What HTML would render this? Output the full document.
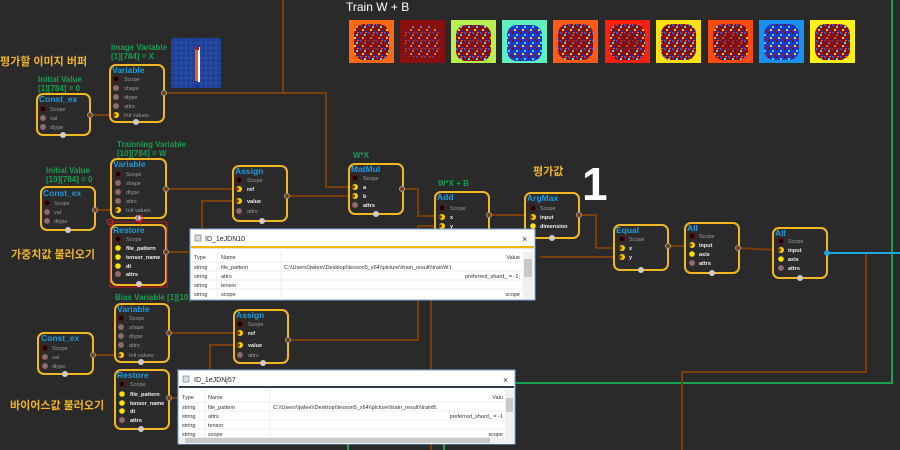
<!DOCTYPE html>
<html><head><meta charset="utf-8"><style>
html,body{margin:0;padding:0;background:#2a2a2a;}
svg{display:block;}
.t{font-family:"Liberation Sans",sans-serif;font-weight:bold;font-size:8.5px;fill:#1e9ce0;}
.r{font-family:"Liberation Sans",sans-serif;font-size:5.5px;fill:#9a9a9a;}
.rw{font-family:"Liberation Sans",sans-serif;font-size:5.5px;fill:#f0f0f0;font-weight:bold;}
.gl{font-family:"Liberation Sans",sans-serif;font-weight:bold;font-size:8px;fill:#14a050;}
.ko{font-family:"Liberation Sans","Noto Sans CJK KR",sans-serif;font-size:11px;fill:#f0b428;font-weight:bold;}
.d{font-family:"Liberation Sans",sans-serif;font-size:5.5px;fill:#333;}
.nb{fill:#2b2b2b;stroke:#f2b822;stroke-width:2;}
.w{fill:none;stroke:#7a3e08;stroke-width:2;}
</style></head><body>
<svg width="900" height="450" viewBox="0 0 900 450" xmlns="http://www.w3.org/2000/svg">
<defs>
<pattern id="nz" width="8" height="8" patternUnits="userSpaceOnUse">
<rect width="8" height="8" fill="#8b0a0a"/>
<rect x="0" y="0" width="2" height="2" fill="#1a5cff"/>
<rect x="4" y="2" width="2" height="2" fill="#40e0ff"/>
<rect x="2" y="5" width="2" height="2" fill="#ffd020"/>
<rect x="6" y="6" width="2" height="2" fill="#1030c0"/>
<rect x="5" y="0" width="2" height="1" fill="#ff6020"/>
</pattern>
<pattern id="nz2" width="8" height="8" patternUnits="userSpaceOnUse">
<rect width="8" height="8" fill="#1838d0"/>
<rect x="0" y="0" width="2" height="2" fill="#8b0a0a"/>
<rect x="4" y="2" width="2" height="2" fill="#40e0ff"/>
<rect x="2" y="5" width="2" height="2" fill="#ffd020"/>
<rect x="6" y="6" width="2" height="2" fill="#a01010"/>
</pattern>
</defs>

<!-- green lines -->
<line x1="892" y1="0" x2="892" y2="384" stroke="#16a24e" stroke-width="2"/>
<line x1="515" y1="383" x2="892" y2="383" stroke="#16a24e" stroke-width="2"/>
<line x1="348" y1="443" x2="348" y2="450" stroke="#16a24e" stroke-width="2"/>
<line x1="444" y1="443" x2="444" y2="450" stroke="#16a24e" stroke-width="2"/>

<!-- wires -->
<polyline class="w" points="283,0 283,93"/>
<polyline class="w" points="164,93 326,93 326,187 349,187"/>
<polyline class="w" points="90,115 114,115"/>
<polyline class="w" points="95,210 115,210"/>
<polyline class="w" points="166,189 237,189"/>
<polyline class="w" points="287,196 349,196"/>
<polyline class="w" points="202,240 202,201 237,201"/>
<polyline class="w" points="402,189 418,189 418,216 438,216"/>
<polyline class="w" points="418,240 418,226 438,226"/>
<polyline class="w" points="489,215 529,215"/>
<polyline class="w" points="579,215 596,215 596,248 618,248"/>
<polyline class="w" points="540,257 618,257"/>
<polyline class="w" points="668,246 688,246"/>
<polyline class="w" points="738,248 776,250"/>
<polyline class="w" points="866,253 866,372 682,372 682,450"/>
<polyline class="w" points="93,355 119,355"/>
<polyline class="w" points="169,333 237,333"/>
<polyline class="w" points="210,375 210,345 237,345"/>
<polyline class="w" points="288,340 418,340 418,300"/>
<polyline class="w" points="431,300 431,450"/>
<polyline class="w" points="166,252 190,252"/>
<polyline class="w" points="169,398 178,398"/>
<line x1="827" y1="253" x2="900" y2="253" stroke="#1ea8e0" stroke-width="2"/>

<!-- labels -->
<text class="ko" x="0" y="65">평가할 이미지 버퍼</text>
<text class="ko" x="11" y="258">가중치값 불러오기</text>
<text class="ko" x="10" y="409">바이어스값 불러오기</text>
<text class="ko" x="533" y="175">평가값</text>
<text x="582" y="200" font-family="Liberation Sans,sans-serif" font-weight="bold" font-size="46" fill="#fff">1</text>
<text x="346" y="11" font-family="Liberation Sans,sans-serif" font-size="12" fill="#fff">Train W + B</text>
<text class="gl" x="111" y="50">Image Variable</text>
<text class="gl" x="111" y="59">[1][784] = X</text>
<text class="gl" x="38" y="82">Initial Value</text>
<text class="gl" x="38" y="91">[1][784] = 0</text>
<text class="gl" x="117" y="147">Trainning Variable</text>
<text class="gl" x="117" y="156">[10][784]  = W</text>
<text class="gl" x="46" y="173">Initial Value</text>
<text class="gl" x="46" y="182">[10][784] = 0</text>
<text class="gl" x="353" y="158">W*X</text>
<text class="gl" x="438" y="186">W*X + B</text>
<text class="gl" x="115" y="300">Bias Variable [1][10]</text>

<!-- input image -->
<rect x="171" y="38" width="50" height="50" fill="#1c3f94"/>
<g stroke="#3a64c0" stroke-width="0.5">
<line x1="176" y1="38" x2="176" y2="88"/><line x1="181" y1="38" x2="181" y2="88"/><line x1="186" y1="38" x2="186" y2="88"/><line x1="191" y1="38" x2="191" y2="88"/><line x1="201" y1="38" x2="201" y2="88"/><line x1="206" y1="38" x2="206" y2="88"/><line x1="211" y1="38" x2="211" y2="88"/><line x1="216" y1="38" x2="216" y2="88"/>
<line x1="171" y1="43" x2="221" y2="43"/><line x1="171" y1="48" x2="221" y2="48"/><line x1="171" y1="53" x2="221" y2="53"/><line x1="171" y1="58" x2="221" y2="58"/><line x1="171" y1="63" x2="221" y2="63"/><line x1="171" y1="68" x2="221" y2="68"/><line x1="171" y1="73" x2="221" y2="73"/><line x1="171" y1="78" x2="221" y2="78"/><line x1="171" y1="83" x2="221" y2="83"/>
</g>
<rect x="195" y="49" width="3" height="32" fill="#e86010"/>
<rect x="198" y="47" width="2" height="35" fill="#fff"/>
<rect x="196" y="47" width="3" height="3" fill="#c01010"/>

<!-- thumbnails -->
<g>
<rect x="349" y="20" width="45" height="43" fill="#ff6a10"/><rect x="354" y="24" width="35" height="36" rx="10" fill="url(#nz)"/><ellipse cx="372" cy="42" rx="10" ry="9" fill="#8b0a0a" opacity="0.5"/>
<rect x="400" y="20" width="45" height="43" fill="#8a1010"/><rect x="405" y="26" width="35" height="32" rx="8" fill="url(#nz)" opacity="0.6"/>
<rect x="451" y="20" width="45" height="43" fill="#b8f050"/><rect x="456" y="25" width="35" height="36" rx="10" fill="url(#nz)"/><ellipse cx="474" cy="43" rx="10" ry="9" fill="#8b0a0a" opacity="0.4"/>
<rect x="502" y="20" width="45" height="43" fill="#60f0c0"/><rect x="507" y="25" width="35" height="36" rx="10" fill="url(#nz2)"/>
<rect x="553" y="20" width="45" height="43" fill="#ff5a18"/><rect x="558" y="24" width="35" height="36" rx="10" fill="url(#nz)"/><ellipse cx="576" cy="42" rx="10" ry="9" fill="#8b0a0a" opacity="0.5"/>
<rect x="605" y="20" width="45" height="43" fill="#ff2010"/><rect x="610" y="24" width="35" height="36" rx="10" fill="url(#nz)"/><ellipse cx="628" cy="42" rx="11" ry="10" fill="#8b0a0a" opacity="0.6"/>
<rect x="656" y="20" width="45" height="43" fill="#ffe010"/><rect x="661" y="24" width="35" height="36" rx="10" fill="url(#nz)"/>
<rect x="708" y="20" width="45" height="43" fill="#ff4a10"/><rect x="713" y="24" width="35" height="36" rx="10" fill="url(#nz)"/><ellipse cx="731" cy="42" rx="11" ry="10" fill="#8b0a0a" opacity="0.6"/>
<rect x="759" y="20" width="45" height="43" fill="#1a90f0"/><rect x="764" y="24" width="35" height="36" rx="10" fill="url(#nz2)"/>
<rect x="810" y="20" width="45" height="43" fill="#fff018"/><rect x="815" y="24" width="35" height="36" rx="10" fill="url(#nz)"/><ellipse cx="833" cy="42" rx="10" ry="9" fill="#8b0a0a" opacity="0.5"/>
</g>

<!-- NODES -->
<rect class="nb" x="37" y="94" width="53" height="41" rx="6"/>
<text class="t" x="39" y="102">Const_ex</text>
<circle cx="43" cy="109" r="2.5" fill="#000" stroke="#700"/><text class="r" x="50" y="111">Scope</text>
<circle cx="43" cy="118" r="2.5" fill="#777" stroke="#a55"/><text class="r" x="50" y="120">val</text>
<circle cx="43" cy="127" r="2.5" fill="#777" stroke="#a55"/><text class="r" x="50" y="129">dtype</text>
<circle cx="90" cy="115" r="2.5" fill="#7a3e08" stroke="#999"/><circle cx="63" cy="135" r="3" fill="#ccc"/>

<rect class="nb" x="110" y="65" width="54" height="57" rx="6"/>
<text class="t" x="112" y="73">Variable</text>
<circle cx="116" cy="79" r="2.5" fill="#000" stroke="#700"/><text class="r" x="124" y="81">Scope</text>
<circle cx="116" cy="88" r="2.5" fill="#777" stroke="#a55"/><text class="r" x="124" y="90">shape</text>
<circle cx="116" cy="97" r="2.5" fill="#777" stroke="#a55"/><text class="r" x="124" y="99">dtype</text>
<circle cx="116" cy="106" r="2.5" fill="#777" stroke="#a55"/><text class="r" x="124" y="108">attrs</text>
<circle cx="116" cy="115" r="3" fill="#ffcc00"/><circle cx="114.5" cy="115" r="1.6" fill="#7a3e08"/><text class="r" x="124" y="117">Init values</text>
<circle cx="164" cy="93" r="2.5" fill="#7a3e08" stroke="#999"/><circle cx="136" cy="122" r="3" fill="#ccc"/>

<rect class="nb" x="41" y="187" width="54" height="43" rx="6"/>
<text class="t" x="43" y="196">Const_ex</text>
<circle cx="47" cy="203" r="2.5" fill="#000" stroke="#700"/><text class="r" x="54" y="205">Scope</text>
<circle cx="47" cy="212" r="2.5" fill="#777" stroke="#a55"/><text class="r" x="54" y="214">val</text>
<circle cx="47" cy="221" r="2.5" fill="#777" stroke="#a55"/><text class="r" x="54" y="223">dtype</text>
<circle cx="95" cy="210" r="2.5" fill="#7a3e08" stroke="#999"/><circle cx="68" cy="230" r="3" fill="#ccc"/>

<rect class="nb" x="111" y="159" width="55" height="59" rx="6"/>
<text class="t" x="113" y="167">Variable</text>
<circle cx="118" cy="174" r="2.5" fill="#000" stroke="#700"/><text class="r" x="126" y="176">Scope</text>
<circle cx="118" cy="183" r="2.5" fill="#777" stroke="#a55"/><text class="r" x="126" y="185">shape</text>
<circle cx="118" cy="192" r="2.5" fill="#777" stroke="#a55"/><text class="r" x="126" y="194">dtype</text>
<circle cx="118" cy="201" r="2.5" fill="#777" stroke="#a55"/><text class="r" x="126" y="203">attrs</text>
<circle cx="118" cy="210" r="3" fill="#ffcc00"/><circle cx="116.5" cy="210" r="1.6" fill="#7a3e08"/><text class="r" x="126" y="212">Init values</text>
<circle cx="166" cy="189" r="2.5" fill="#7a3e08" stroke="#999"/><circle cx="138" cy="218" r="3" fill="#ccc"/>

<rect class="nb" x="233" y="166" width="54" height="55" rx="6"/>
<text class="t" x="235" y="174">Assign</text>
<circle cx="239" cy="180" r="2.5" fill="#000" stroke="#700"/><text class="r" x="247" y="182">Scope</text>
<circle cx="239" cy="189" r="3" fill="#ffcc00"/><circle cx="237.5" cy="189" r="1.6" fill="#7a3e08"/><text class="rw" x="247" y="191">ref</text>
<circle cx="239" cy="201" r="3" fill="#ffcc00"/><circle cx="237.5" cy="201" r="1.6" fill="#7a3e08"/><text class="rw" x="247" y="203">value</text>
<circle cx="239" cy="211" r="2.5" fill="#777" stroke="#a55"/><text class="r" x="247" y="213">attrs</text>
<circle cx="287" cy="196" r="2.5" fill="#7a3e08" stroke="#999"/><circle cx="262" cy="221" r="3" fill="#ccc"/>

<rect class="nb" x="111" y="225" width="55" height="60" rx="6"/>
<rect x="110" y="222" width="57" height="65" fill="none" stroke="#c01818" stroke-width="1"/>
<circle cx="110" cy="222" r="3" fill="none" stroke="#e02020"/><circle cx="140" cy="218" r="3" fill="none" stroke="#e02020"/>
<line x1="140" y1="221" x2="140" y2="225" stroke="#e02020"/>
<text class="t" x="113" y="233">Restore</text>
<circle cx="118" cy="239" r="2.5" fill="#000" stroke="#700"/><text class="r" x="126" y="241">Scope</text>
<circle cx="118" cy="248" r="2.8" fill="#ffe000"/><text class="rw" x="126" y="250">file_pattern</text>
<circle cx="118" cy="257" r="2.8" fill="#ffe000"/><text class="rw" x="126" y="259">tensor_name</text>
<circle cx="118" cy="266" r="2.8" fill="#ffe000"/><text class="rw" x="126" y="268">dt</text>
<circle cx="118" cy="274" r="2.5" fill="#777" stroke="#a55"/><text class="rw" x="126" y="276">attrs</text>
<circle cx="166" cy="252" r="2.5" fill="#7a3e08" stroke="#999"/><circle cx="139" cy="284" r="3" fill="#ccc"/>

<rect class="nb" x="349" y="164" width="54" height="50" rx="6"/>
<text class="t" x="351" y="172">MatMul</text>
<circle cx="355" cy="178" r="2.5" fill="#000" stroke="#700"/><text class="r" x="363" y="180">Scope</text>
<circle cx="355" cy="187" r="3" fill="#ffcc00"/><circle cx="353.5" cy="187" r="1.6" fill="#7a3e08"/><text class="rw" x="363" y="189">a</text>
<circle cx="355" cy="196" r="3" fill="#ffcc00"/><circle cx="353.5" cy="196" r="1.6" fill="#7a3e08"/><text class="rw" x="363" y="198">b</text>
<circle cx="355" cy="205" r="2.5" fill="#777" stroke="#a55"/><text class="rw" x="363" y="207">attrs</text>
<circle cx="402" cy="189" r="2.5" fill="#7a3e08" stroke="#999"/><circle cx="376" cy="214" r="3" fill="#ccc"/>

<rect class="nb" x="435" y="192" width="54" height="46" rx="6"/>
<text class="t" x="437" y="200">Add</text>
<circle cx="442" cy="208" r="2.5" fill="#000" stroke="#700"/><text class="r" x="450" y="210">Scope</text>
<circle cx="442" cy="217" r="3" fill="#ffcc00"/><circle cx="440.5" cy="217" r="1.6" fill="#7a3e08"/><text class="rw" x="450" y="219">x</text>
<circle cx="442" cy="226" r="3" fill="#ffcc00"/><circle cx="440.5" cy="226" r="1.6" fill="#7a3e08"/><text class="rw" x="450" y="228">y</text>
<circle cx="489" cy="215" r="2.5" fill="#7a3e08" stroke="#999"/>

<rect class="nb" x="525" y="193" width="54" height="45" rx="6"/>
<text class="t" x="527" y="201">ArgMax</text>
<circle cx="533" cy="208" r="2.5" fill="#000" stroke="#700"/><text class="r" x="540" y="210">Scope</text>
<circle cx="533" cy="217" r="3" fill="#ffcc00"/><circle cx="531.5" cy="217" r="1.6" fill="#7a3e08"/><text class="rw" x="540" y="219">input</text>
<circle cx="533" cy="226" r="2.8" fill="#ffe000"/><text class="rw" x="540" y="228">dimension</text>
<circle cx="579" cy="215" r="2.5" fill="#7a3e08" stroke="#999"/><circle cx="552" cy="238" r="3" fill="#ccc"/>

<rect class="nb" x="614" y="225" width="54" height="45" rx="6"/>
<text class="t" x="616" y="233">Equal</text>
<circle cx="622" cy="239" r="2.5" fill="#000" stroke="#700"/><text class="r" x="629" y="241">Scope</text>
<circle cx="622" cy="248" r="3" fill="#ffcc00"/><circle cx="620.5" cy="248" r="1.6" fill="#7a3e08"/><text class="rw" x="629" y="250">x</text>
<circle cx="622" cy="257" r="3" fill="#ffcc00"/><circle cx="620.5" cy="257" r="1.6" fill="#7a3e08"/><text class="rw" x="629" y="259">y</text>
<circle cx="668" cy="246" r="2.5" fill="#7a3e08" stroke="#999"/><circle cx="641" cy="270" r="3" fill="#ccc"/>

<rect class="nb" x="685" y="223" width="54" height="50" rx="6"/>
<text class="t" x="687" y="231">All</text>
<circle cx="692" cy="236" r="2.5" fill="#000" stroke="#700"/><text class="r" x="699" y="238">Scope</text>
<circle cx="692" cy="245" r="3" fill="#ffcc00"/><circle cx="690.5" cy="245" r="1.6" fill="#7a3e08"/><text class="rw" x="699" y="247">input</text>
<circle cx="692" cy="254" r="2.8" fill="#ffe000"/><text class="rw" x="699" y="256">axis</text>
<circle cx="692" cy="263" r="2.5" fill="#777" stroke="#a55"/><text class="rw" x="699" y="265">attrs</text>
<circle cx="738" cy="248" r="2.5" fill="#7a3e08" stroke="#999"/><circle cx="712" cy="273" r="3" fill="#ccc"/>

<rect class="nb" x="773" y="228" width="54" height="50" rx="6"/>
<text class="t" x="775" y="236">All</text>
<circle cx="781" cy="241" r="2.5" fill="#000" stroke="#700"/><text class="r" x="788" y="243">Scope</text>
<circle cx="781" cy="250" r="3" fill="#ffcc00"/><circle cx="779.5" cy="250" r="1.6" fill="#7a3e08"/><text class="rw" x="788" y="252">input</text>
<circle cx="781" cy="259" r="2.8" fill="#ffe000"/><text class="rw" x="788" y="261">axis</text>
<circle cx="781" cy="268" r="2.5" fill="#777" stroke="#a55"/><text class="rw" x="788" y="270">attrs</text>
<circle cx="827" cy="253" r="2.8" fill="#1ea8e0"/><circle cx="800" cy="278" r="3" fill="#ccc"/>

<rect class="nb" x="115" y="304" width="54" height="58" rx="6"/>
<text class="t" x="117" y="312">Variable</text>
<circle cx="121" cy="318" r="2.5" fill="#000" stroke="#700"/><text class="r" x="129" y="320">Scope</text>
<circle cx="121" cy="327" r="2.5" fill="#777" stroke="#a55"/><text class="r" x="129" y="329">shape</text>
<circle cx="121" cy="336" r="2.5" fill="#777" stroke="#a55"/><text class="r" x="129" y="338">dtype</text>
<circle cx="121" cy="345" r="2.5" fill="#777" stroke="#a55"/><text class="r" x="129" y="347">attrs</text>
<circle cx="121" cy="355" r="3" fill="#ffcc00"/><circle cx="119.5" cy="355" r="1.6" fill="#7a3e08"/><text class="r" x="129" y="357">Init values</text>
<circle cx="169" cy="333" r="2.5" fill="#7a3e08" stroke="#999"/><circle cx="141" cy="362" r="3" fill="#ccc"/>

<rect class="nb" x="38" y="333" width="55" height="41" rx="6"/>
<text class="t" x="41" y="341">Const_ex</text>
<circle cx="45" cy="348" r="2.5" fill="#000" stroke="#700"/><text class="r" x="52" y="350">Scope</text>
<circle cx="45" cy="357" r="2.5" fill="#777" stroke="#a55"/><text class="r" x="52" y="359">val</text>
<circle cx="45" cy="366" r="2.5" fill="#777" stroke="#a55"/><text class="r" x="52" y="368">dtype</text>
<circle cx="93" cy="355" r="2.5" fill="#7a3e08" stroke="#999"/><circle cx="65" cy="374" r="3" fill="#ccc"/>

<rect class="nb" x="234" y="310" width="54" height="53" rx="6"/>
<text class="t" x="236" y="318">Assign</text>
<circle cx="240" cy="324" r="2.5" fill="#000" stroke="#700"/><text class="r" x="248" y="326">Scope</text>
<circle cx="240" cy="333" r="3" fill="#ffcc00"/><circle cx="238.5" cy="333" r="1.6" fill="#7a3e08"/><text class="rw" x="248" y="335">ref</text>
<circle cx="240" cy="345" r="3" fill="#ffcc00"/><circle cx="238.5" cy="345" r="1.6" fill="#7a3e08"/><text class="rw" x="248" y="347">value</text>
<circle cx="240" cy="355" r="2.5" fill="#777" stroke="#a55"/><text class="r" x="248" y="357">attrs</text>
<circle cx="288" cy="340" r="2.5" fill="#7a3e08" stroke="#999"/><circle cx="263" cy="363" r="3" fill="#ccc"/>

<rect class="nb" x="115" y="370" width="54" height="59" rx="6"/>
<text class="t" x="117" y="378">Restore</text>
<circle cx="122" cy="384" r="2.5" fill="#000" stroke="#700"/><text class="r" x="130" y="386">Scope</text>
<circle cx="122" cy="394" r="2.8" fill="#ffe000"/><text class="rw" x="130" y="396">file_pattern</text>
<circle cx="122" cy="403" r="2.8" fill="#ffe000"/><text class="rw" x="130" y="405">tensor_name</text>
<circle cx="122" cy="411" r="2.8" fill="#ffe000"/><text class="rw" x="130" y="413">dt</text>
<circle cx="122" cy="420" r="2.5" fill="#777" stroke="#a55"/><text class="rw" x="130" y="422">attrs</text>
<circle cx="169" cy="398" r="2.5" fill="#7a3e08" stroke="#999"/><circle cx="141" cy="429" r="3" fill="#ccc"/>

<!-- Dialog 1 -->
<g>
<rect x="190" y="229" width="345" height="71" fill="#fff" stroke="#7aa6d6" stroke-width="1"/>
<rect x="195" y="235" width="6" height="6" fill="#ddd" stroke="#666" stroke-width="0.6"/>
<text x="205" y="241" font-family="Liberation Sans,sans-serif" font-size="7" fill="#222">ID_1eJDN10</text>
<text x="522" y="242" font-family="Liberation Sans,sans-serif" font-size="9" fill="#333">×</text>
<rect x="191" y="246" width="343" height="2" fill="#f0b400"/>
<rect x="191" y="248" width="343" height="1" fill="#e0e0e0"/>
<line x1="217" y1="252" x2="217" y2="300" stroke="#eee"/>
<line x1="281" y1="252" x2="281" y2="300" stroke="#eee"/>
<line x1="191" y1="262" x2="523" y2="262" stroke="#eee"/>
<line x1="191" y1="271" x2="523" y2="271" stroke="#eee"/>
<line x1="191" y1="280" x2="523" y2="280" stroke="#eee"/>
<line x1="191" y1="289" x2="523" y2="289" stroke="#eee"/>
<rect x="523" y="252" width="10" height="47" fill="#f0f0f0"/>
<rect x="524" y="259" width="8" height="18" fill="#c8c8c8"/>
<text class="d" x="194" y="259">Type</text><text class="d" x="221" y="259">Name</text><text class="d" x="520" y="259" text-anchor="end">Value</text>
<text class="d" x="194" y="269">string</text><text class="d" x="221" y="269">file_pattern</text><text class="d" x="284" y="269">C:\\Users\\jwlee\\Desktop\\lesson5_x64\\picture\\train_result\\trainW.t</text>
<text class="d" x="194" y="278">string</text><text class="d" x="221" y="278">attrs</text><text class="d" x="520" y="278" text-anchor="end">preferred_shard_ = -1;</text>
<text class="d" x="194" y="287">string</text><text class="d" x="221" y="287">tensor</text>
<text class="d" x="194" y="296">string</text><text class="d" x="221" y="296">scope</text><text class="d" x="520" y="296" text-anchor="end">scope</text>
</g>

<!-- Dialog 2 -->
<g>
<rect x="178" y="370" width="337" height="74" fill="#fff" stroke="#7aa6d6" stroke-width="1"/>
<rect x="183" y="376" width="6" height="6" fill="#ddd" stroke="#3a8a8a" stroke-width="0.6"/>
<text x="194" y="382" font-family="Liberation Sans,sans-serif" font-size="7" fill="#222">ID_1eJDNj57</text>
<text x="503" y="383" font-family="Liberation Sans,sans-serif" font-size="9" fill="#333">×</text>
<rect x="179" y="386" width="335" height="2" fill="#2e3c4c"/>
<line x1="205" y1="390" x2="205" y2="437" stroke="#eee"/>
<line x1="270" y1="390" x2="270" y2="437" stroke="#eee"/>
<line x1="179" y1="402" x2="505" y2="402" stroke="#eee"/>
<line x1="179" y1="411" x2="505" y2="411" stroke="#eee"/>
<line x1="179" y1="420" x2="505" y2="420" stroke="#eee"/>
<line x1="179" y1="429" x2="505" y2="429" stroke="#eee"/>
<rect x="505" y="390" width="9" height="47" fill="#f0f0f0"/>
<rect x="506" y="398" width="7" height="14" fill="#c8c8c8"/>
<rect x="179" y="437" width="335" height="7" fill="#f0f0f0"/>
<rect x="185" y="438" width="305" height="5" fill="#c8c8c8"/>
<text class="d" x="182" y="399">Type</text><text class="d" x="208" y="399">Name</text><text class="d" x="503" y="399" text-anchor="end">Valu</text>
<text class="d" x="182" y="409">string</text><text class="d" x="208" y="409">file_pattern</text><text class="d" x="273" y="409">C:\\Users\\jwlee\\Desktop\\lesson5_x64\\picture\\train_result\\trainB.</text>
<text class="d" x="182" y="418">string</text><text class="d" x="208" y="418">attrs</text><text class="d" x="503" y="418" text-anchor="end">preferred_shard_ = -1</text>
<text class="d" x="182" y="427">string</text><text class="d" x="208" y="427">tensor</text>
<text class="d" x="182" y="436">string</text><text class="d" x="208" y="436">scope</text><text class="d" x="503" y="436" text-anchor="end">scope</text>
</g>
</svg>
</body></html>
